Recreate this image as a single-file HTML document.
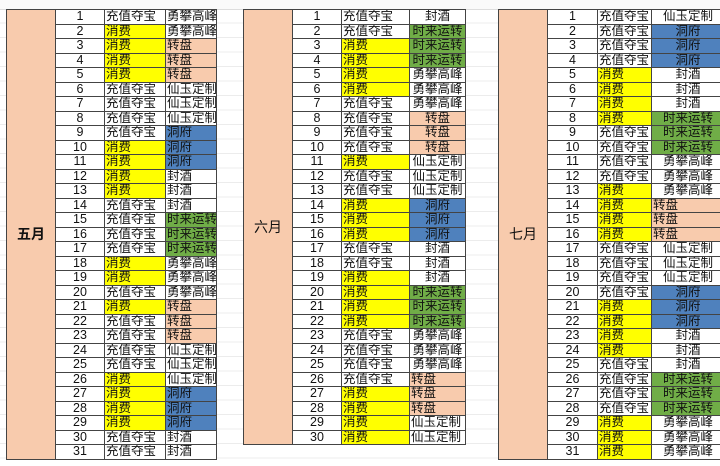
<!DOCTYPE html>
<html><head><meta charset="utf-8"><style>
html,body{margin:0;padding:0;}
body{width:720px;height:466px;overflow:hidden;position:relative;background:#fff;
background-image:repeating-linear-gradient(to bottom,transparent 0,transparent 13.5px,#ececec 13.5px,#ececec 14.5px);background-position:0 9px;
font-family:"Liberation Sans","Noto Sans CJK SC",sans-serif;}
table{position:absolute;top:9px;border-collapse:collapse;table-layout:fixed;font-size:12.5px;color:#111;}
td{border:1px solid #444;height:13.5px;padding:0 1px;line-height:13px;white-space:nowrap;overflow:hidden;background:#fff;}
td.n{text-align:center;}
td.l{background:#f8cbad;text-align:center;font-weight:bold;font-size:14px;}
.c td:nth-child(3),.c td:nth-child(4){text-align:center}
.y{background:#ffff00}.p{background:#f8cbad}.b{background:#4f81bd}.g{background:#70ad47}
</style></head><body>
<div style="position:absolute;left:0;top:0;width:720px;height:9px;background:#fafafa;border-bottom:1px solid #ddd"></div>
<table style="left:6px;width:210px"><colgroup><col style="width:49px"><col style="width:49px"><col style="width:61px"><col style="width:51px"></colgroup>
<tr><td class="l" rowspan="31">五月</td><td class="n">1</td><td>充值夺宝</td><td>勇攀高峰</td></tr>
<tr><td class="n">2</td><td class="y">消费</td><td>勇攀高峰</td></tr>
<tr><td class="n">3</td><td class="y">消费</td><td class="p">转盘</td></tr>
<tr><td class="n">4</td><td class="y">消费</td><td class="p">转盘</td></tr>
<tr><td class="n">5</td><td class="y">消费</td><td class="p">转盘</td></tr>
<tr><td class="n">6</td><td>充值夺宝</td><td>仙玉定制</td></tr>
<tr><td class="n">7</td><td>充值夺宝</td><td>仙玉定制</td></tr>
<tr><td class="n">8</td><td>充值夺宝</td><td>仙玉定制</td></tr>
<tr><td class="n">9</td><td>充值夺宝</td><td class="b">洞府</td></tr>
<tr><td class="n">10</td><td class="y">消费</td><td class="b">洞府</td></tr>
<tr><td class="n">11</td><td class="y">消费</td><td class="b">洞府</td></tr>
<tr><td class="n">12</td><td class="y">消费</td><td>封酒</td></tr>
<tr><td class="n">13</td><td class="y">消费</td><td>封酒</td></tr>
<tr><td class="n">14</td><td>充值夺宝</td><td>封酒</td></tr>
<tr><td class="n">15</td><td>充值夺宝</td><td class="g">时来运转</td></tr>
<tr><td class="n">16</td><td>充值夺宝</td><td class="g">时来运转</td></tr>
<tr><td class="n">17</td><td>充值夺宝</td><td class="g">时来运转</td></tr>
<tr><td class="n">18</td><td class="y">消费</td><td>勇攀高峰</td></tr>
<tr><td class="n">19</td><td class="y">消费</td><td>勇攀高峰</td></tr>
<tr><td class="n">20</td><td>充值夺宝</td><td>勇攀高峰</td></tr>
<tr><td class="n">21</td><td class="y">消费</td><td class="p">转盘</td></tr>
<tr><td class="n">22</td><td>充值夺宝</td><td class="p">转盘</td></tr>
<tr><td class="n">23</td><td>充值夺宝</td><td class="p">转盘</td></tr>
<tr><td class="n">24</td><td>充值夺宝</td><td>仙玉定制</td></tr>
<tr><td class="n">25</td><td>充值夺宝</td><td>仙玉定制</td></tr>
<tr><td class="n">26</td><td class="y">消费</td><td>仙玉定制</td></tr>
<tr><td class="n">27</td><td class="y">消费</td><td class="b">洞府</td></tr>
<tr><td class="n">28</td><td class="y">消费</td><td class="b">洞府</td></tr>
<tr><td class="n">29</td><td class="y">消费</td><td class="b">洞府</td></tr>
<tr><td class="n">30</td><td>充值夺宝</td><td>封酒</td></tr>
<tr><td class="n">31</td><td>充值夺宝</td><td>封酒</td></tr>
</table>
<table class="c" style="left:243px;width:222px"><colgroup><col style="width:49px"><col style="width:49px"><col style="width:68px"><col style="width:56px"></colgroup>
<tr><td class="l" rowspan="30" style="font-weight:normal">六月</td><td class="n">1</td><td style="text-align:left">充值夺宝</td><td>封酒</td></tr>
<tr><td class="n">2</td><td style="text-align:left">充值夺宝</td><td class="g">时来运转</td></tr>
<tr><td class="n">3</td><td class="y" style="text-align:left">消费</td><td class="g">时来运转</td></tr>
<tr><td class="n">4</td><td class="y" style="text-align:left">消费</td><td class="g">时来运转</td></tr>
<tr><td class="n">5</td><td class="y" style="text-align:left">消费</td><td>勇攀高峰</td></tr>
<tr><td class="n">6</td><td class="y" style="text-align:left">消费</td><td>勇攀高峰</td></tr>
<tr><td class="n">7</td><td style="text-align:left">充值夺宝</td><td>勇攀高峰</td></tr>
<tr><td class="n">8</td><td style="text-align:left">充值夺宝</td><td class="p">转盘</td></tr>
<tr><td class="n">9</td><td style="text-align:left">充值夺宝</td><td class="p">转盘</td></tr>
<tr><td class="n">10</td><td style="text-align:left">充值夺宝</td><td class="p">转盘</td></tr>
<tr><td class="n">11</td><td class="y" style="text-align:left">消费</td><td>仙玉定制</td></tr>
<tr><td class="n">12</td><td style="text-align:left">充值夺宝</td><td>仙玉定制</td></tr>
<tr><td class="n">13</td><td style="text-align:left">充值夺宝</td><td>仙玉定制</td></tr>
<tr><td class="n">14</td><td class="y" style="text-align:left">消费</td><td class="b">洞府</td></tr>
<tr><td class="n">15</td><td class="y" style="text-align:left">消费</td><td class="b">洞府</td></tr>
<tr><td class="n">16</td><td class="y" style="text-align:left">消费</td><td class="b">洞府</td></tr>
<tr><td class="n">17</td><td style="text-align:left">充值夺宝</td><td>封酒</td></tr>
<tr><td class="n">18</td><td style="text-align:left">充值夺宝</td><td>封酒</td></tr>
<tr><td class="n">19</td><td class="y" style="text-align:left">消费</td><td>封酒</td></tr>
<tr><td class="n">20</td><td class="y" style="text-align:left">消费</td><td class="g">时来运转</td></tr>
<tr><td class="n">21</td><td class="y" style="text-align:left">消费</td><td class="g">时来运转</td></tr>
<tr><td class="n">22</td><td class="y" style="text-align:left">消费</td><td class="g">时来运转</td></tr>
<tr><td class="n">23</td><td style="text-align:left">充值夺宝</td><td>勇攀高峰</td></tr>
<tr><td class="n">24</td><td style="text-align:left">充值夺宝</td><td>勇攀高峰</td></tr>
<tr><td class="n">25</td><td style="text-align:left">充值夺宝</td><td>勇攀高峰</td></tr>
<tr><td class="n">26</td><td style="text-align:left">充值夺宝</td><td class="p" style="text-align:left">转盘</td></tr>
<tr><td class="n">27</td><td class="y" style="text-align:left">消费</td><td class="p" style="text-align:left">转盘</td></tr>
<tr><td class="n">28</td><td class="y" style="text-align:left">消费</td><td class="p" style="text-align:left">转盘</td></tr>
<tr><td class="n">29</td><td class="y" style="text-align:left">消费</td><td style="text-align:left">仙玉定制</td></tr>
<tr><td class="n">30</td><td class="y" style="text-align:left">消费</td><td style="text-align:left">仙玉定制</td></tr>
</table>
<table class="c" style="left:498px;width:226px"><colgroup><col style="width:49px"><col style="width:50px"><col style="width:54px"><col style="width:73px"></colgroup>
<tr><td class="l" rowspan="31" style="font-weight:normal">七月</td><td class="n">1</td><td style="text-align:left">充值夺宝</td><td>仙玉定制</td></tr>
<tr><td class="n">2</td><td style="text-align:left">充值夺宝</td><td class="b">洞府</td></tr>
<tr><td class="n">3</td><td style="text-align:left">充值夺宝</td><td class="b">洞府</td></tr>
<tr><td class="n">4</td><td style="text-align:left">充值夺宝</td><td class="b">洞府</td></tr>
<tr><td class="n">5</td><td class="y" style="text-align:left">消费</td><td>封酒</td></tr>
<tr><td class="n">6</td><td class="y" style="text-align:left">消费</td><td>封酒</td></tr>
<tr><td class="n">7</td><td class="y" style="text-align:left">消费</td><td>封酒</td></tr>
<tr><td class="n">8</td><td class="y" style="text-align:left">消费</td><td class="g">时来运转</td></tr>
<tr><td class="n">9</td><td style="text-align:left">充值夺宝</td><td class="g">时来运转</td></tr>
<tr><td class="n">10</td><td style="text-align:left">充值夺宝</td><td class="g">时来运转</td></tr>
<tr><td class="n">11</td><td style="text-align:left">充值夺宝</td><td>勇攀高峰</td></tr>
<tr><td class="n">12</td><td style="text-align:left">充值夺宝</td><td>勇攀高峰</td></tr>
<tr><td class="n">13</td><td class="y" style="text-align:left">消费</td><td>勇攀高峰</td></tr>
<tr><td class="n">14</td><td class="y" style="text-align:left">消费</td><td class="p" style="text-align:left">转盘</td></tr>
<tr><td class="n">15</td><td class="y" style="text-align:left">消费</td><td class="p" style="text-align:left">转盘</td></tr>
<tr><td class="n">16</td><td class="y" style="text-align:left">消费</td><td class="p" style="text-align:left">转盘</td></tr>
<tr><td class="n">17</td><td style="text-align:left">充值夺宝</td><td>仙玉定制</td></tr>
<tr><td class="n">18</td><td style="text-align:left">充值夺宝</td><td>仙玉定制</td></tr>
<tr><td class="n">19</td><td style="text-align:left">充值夺宝</td><td>仙玉定制</td></tr>
<tr><td class="n">20</td><td style="text-align:left">充值夺宝</td><td class="b">洞府</td></tr>
<tr><td class="n">21</td><td class="y" style="text-align:left">消费</td><td class="b">洞府</td></tr>
<tr><td class="n">22</td><td class="y" style="text-align:left">消费</td><td class="b">洞府</td></tr>
<tr><td class="n">23</td><td class="y" style="text-align:left">消费</td><td>封酒</td></tr>
<tr><td class="n">24</td><td class="y" style="text-align:left">消费</td><td>封酒</td></tr>
<tr><td class="n">25</td><td style="text-align:left">充值夺宝</td><td>封酒</td></tr>
<tr><td class="n">26</td><td style="text-align:left">充值夺宝</td><td class="g">时来运转</td></tr>
<tr><td class="n">27</td><td style="text-align:left">充值夺宝</td><td class="g">时来运转</td></tr>
<tr><td class="n">28</td><td style="text-align:left">充值夺宝</td><td class="g">时来运转</td></tr>
<tr><td class="n">29</td><td class="y" style="text-align:left">消费</td><td>勇攀高峰</td></tr>
<tr><td class="n">30</td><td class="y" style="text-align:left">消费</td><td>勇攀高峰</td></tr>
<tr><td class="n">31</td><td class="y" style="text-align:left">消费</td><td>勇攀高峰</td></tr>
</table>
</body></html>
